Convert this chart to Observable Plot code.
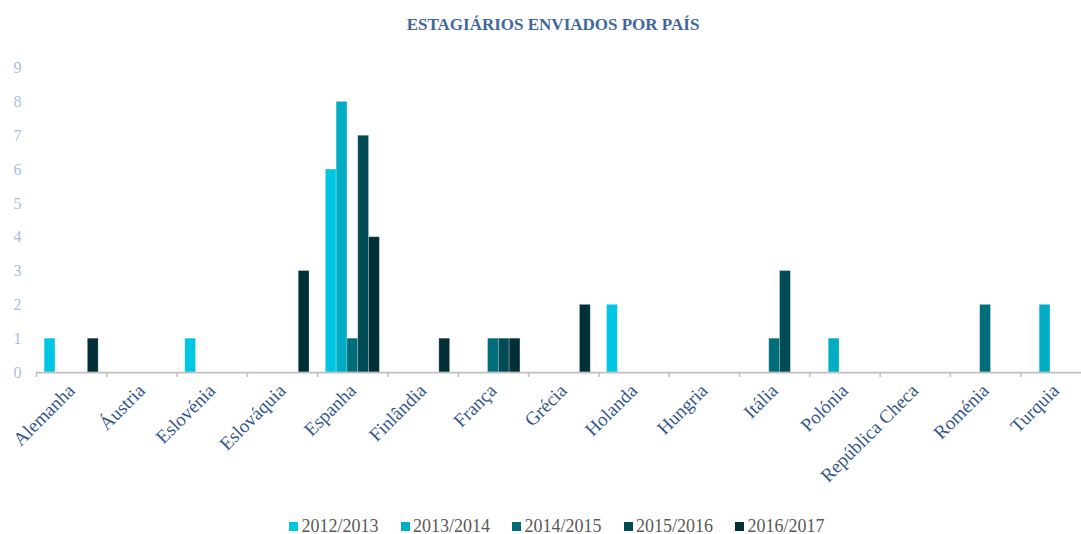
<!DOCTYPE html>
<html>
<head>
<meta charset="utf-8">
<script src="https://cdn.jsdelivr.net/npm/d3@7"></script>
<script src="https://cdn.jsdelivr.net/npm/@observablehq/plot@0.6"></script>
<style>
  html, body { margin: 0; padding: 0; background: #fff; overflow: hidden; }
  #wrap { position: relative; width: 1081px; height: 534px; }
  #title { position: absolute; left: 25px; top: 16px; width: 1056px; text-align: center;
           font: bold 17px/1 "Liberation Serif", serif; color: #41679d; }
  #chart { position: absolute; left: 0; top: 0; }
  #legend { position: absolute; left: 289px; top: 517px; display: flex; align-items: center;
            font: 18px/18px "Liberation Serif", serif; color: #595959; white-space: nowrap; }
  .item { display: flex; align-items: center; margin-right: 22px; }
  .sw { width: 9px; height: 9px; margin-right: 3.5px; margin-top: 1px; }
</style>
</head>
<body>
<div id="wrap">
  <div id="chart"></div>
  <div id="title">ESTAGIÁRIOS ENVIADOS POR PAÍS</div>
  <div id="legend"></div>
</div>
<script>
const countries = ["Alemanha","Áustria","Eslovénia","Eslováquia","Espanha","Finlândia","França","Grécia","Holanda","Hungria","Itália","Polónia","República Checa","Roménia","Turquia"];
const seasons = ["2012/2013","2013/2014","2014/2015","2015/2016","2016/2017"];
const v2012_2013 = [1,0,1,0,6,0,0,0,2,0,0,0,0,0,0];
const v2013_2014 = [0,0,0,0,8,0,0,0,0,0,0,1,0,0,2];
const v2014_2015 = [0,0,0,0,1,0,1,0,0,0,1,0,0,2,0];
const v2015_2016 = [0,0,0,0,7,0,1,0,0,0,3,0,0,0,0];
const v2016_2017 = [1,0,0,3,4,1,1,2,0,0,0,0,0,0,0];
const colors = ["#00c6e3","#00adc4","#006e7a","#004b56","#002f38"];
const yTicks = [0,1,2,3,4,5,6,7,8,9];

const series = [v2012_2013, v2013_2014, v2014_2015, v2015_2016, v2016_2017];
const data = [];
series.forEach((vals, si) => vals.forEach((v, ci) => {
  data.push({country: countries[ci], season: seasons[si], value: v});
}));

const serif = "'Liberation Serif', serif";
const chart = Plot.plot({
  width: 1081, height: 470,
  marginLeft: 36, marginRight: 0, marginTop: 67.6, marginBottom: 98,
  style: {background: "transparent", overflow: "visible"},
  fx: {domain: countries, range: [36, 1090.5], padding: 0, round: false, label: null},
  x: {domain: seasons, paddingInner: 0, paddingOuter: 0.755, round: false, axis: null},
  y: {domain: [0, 9], axis: null},
  color: {domain: seasons, range: colors},
  marks: [
    Plot.barY(data, {fx: "country", x: "season", y: "value", fill: "season",
      stroke: "#ffffff", strokeOpacity: 0.3, strokeWidth: 0.8}),
    Plot.ruleY([0], {stroke: "#bfbfbf", strokeWidth: 1.75}),
    Plot.axisY({ticks: yTicks, tickSize: 0, tickPadding: 15, fontSize: 16,
      fontFamily: serif, fill: "#a8bedd", label: null}),
    Plot.axisFx({anchor: "bottom", text: null, tickSize: 5, dx: -35.15, stroke: "#bfbfbf", strokeWidth: 1.5}),
    Plot.axisFx({anchor: "bottom", tickSize: 0, tickRotate: -45, tickPadding: 15, fontSize: 19,
      fontFamily: serif, fill: "#34578d", label: null})
  ]
});
document.getElementById("chart").appendChild(chart);

const legend = document.getElementById("legend");
seasons.forEach((s, i) => {
  const item = document.createElement("div");
  item.className = "item";
  const sw = document.createElement("span");
  sw.className = "sw";
  sw.style.background = colors[i];
  const t = document.createElement("span");
  t.textContent = s;
  item.appendChild(sw); item.appendChild(t);
  legend.appendChild(item);
});
</script>
</body>
</html>
